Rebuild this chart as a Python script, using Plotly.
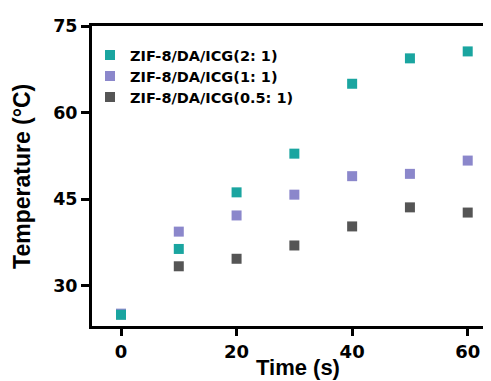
import plotly.graph_objects as go

time_s = [0, 10, 20, 30, 40, 50, 60]
series_names = ["ZIF-8/DA/ICG(2: 1)", "ZIF-8/DA/ICG(1: 1)", "ZIF-8/DA/ICG(0.5: 1)"]
temp_2_1 = [25.0, 36.4, 46.2, 52.9, 65.0, 69.4, 70.6]
temp_1_1 = [25.2, 39.4, 42.2, 45.8, 49.0, 49.4, 51.7]
temp_05_1 = [25.1, 33.4, 34.7, 37.0, 40.3, 43.6, 42.7]
colors = ["#1AA5A0", "#8B87CB", "#555555"]
y_ticks = [30, 45, 60, 75]
x_ticks = [0, 20, 40, 60]

wide_font = "DejaVu Sans, Verdana, sans-serif"
font_family = "Liberation Sans, Arial, sans-serif"

fig = go.Figure()
# draw back-to-front so teal sits on top at t=0; each series gets its own legend row
for name, vals, col, leg in [(series_names[2], temp_05_1, colors[2], "legend3"),
                             (series_names[1], temp_1_1, colors[1], "legend2"),
                             (series_names[0], temp_2_1, colors[0], "legend")]:
    fig.add_trace(go.Scatter(x=time_s, y=vals, mode="markers", name=name, legend=leg,
                             marker=dict(symbol="square", size=10, color=col,
                                         line=dict(width=0))))

def leg_style(ypos):
    return dict(x=-0.005, y=ypos, xanchor="left", yanchor="middle",
                font=dict(size=14.5, family=wide_font, color="black", weight="bold"),
                bgcolor="rgba(0,0,0,0)", itemwidth=30)

# page body has an 8px default margin; plot area spans page x 92..491, y 26..326
fig.update_layout(
    width=491, height=373,
    margin=dict(l=84, r=8, t=18, b=55, autoexpand=False),
    paper_bgcolor="white", plot_bgcolor="white",
    font=dict(family=wide_font, color="black"),
    showlegend=True,
    legend=leg_style(0.903),
    legend2=leg_style(0.833),
    legend3=leg_style(0.763),
    xaxis=dict(range=[-5.02, 64.03], tickvals=x_ticks, showgrid=False, zeroline=False,
               showline=True, linecolor="black", linewidth=3, mirror=True,
               ticks="outside", ticklen=7, tickwidth=2.5, tickcolor="black",
               automargin=False,
               tickfont=dict(size=18, weight="bold", family=wide_font)),
    yaxis=dict(range=[23.06, 75], tickvals=y_ticks, showgrid=False, zeroline=False,
               showline=True, linecolor="black", linewidth=3, mirror=False,
               ticks="outside", ticklen=8, tickwidth=2.5, tickcolor="black",
               automargin=False,
               tickfont=dict(size=17.5, weight="bold", family=wide_font)),
    annotations=[
        dict(text="Time (s)", xref="paper", yref="paper", x=0.516, y=-0.137,
             xanchor="center", yanchor="middle", showarrow=False,
             font=dict(size=22, weight="bold", family=font_family, color="black")),
        dict(text="Temperature (°C)", xref="paper", yref="paper", x=-0.1754, y=0.497,
             xanchor="center", yanchor="middle", showarrow=False, textangle=-90,
             font=dict(size=23, weight="bold", family=font_family, color="black")),
    ],
)

fig.write_html("out.html")
